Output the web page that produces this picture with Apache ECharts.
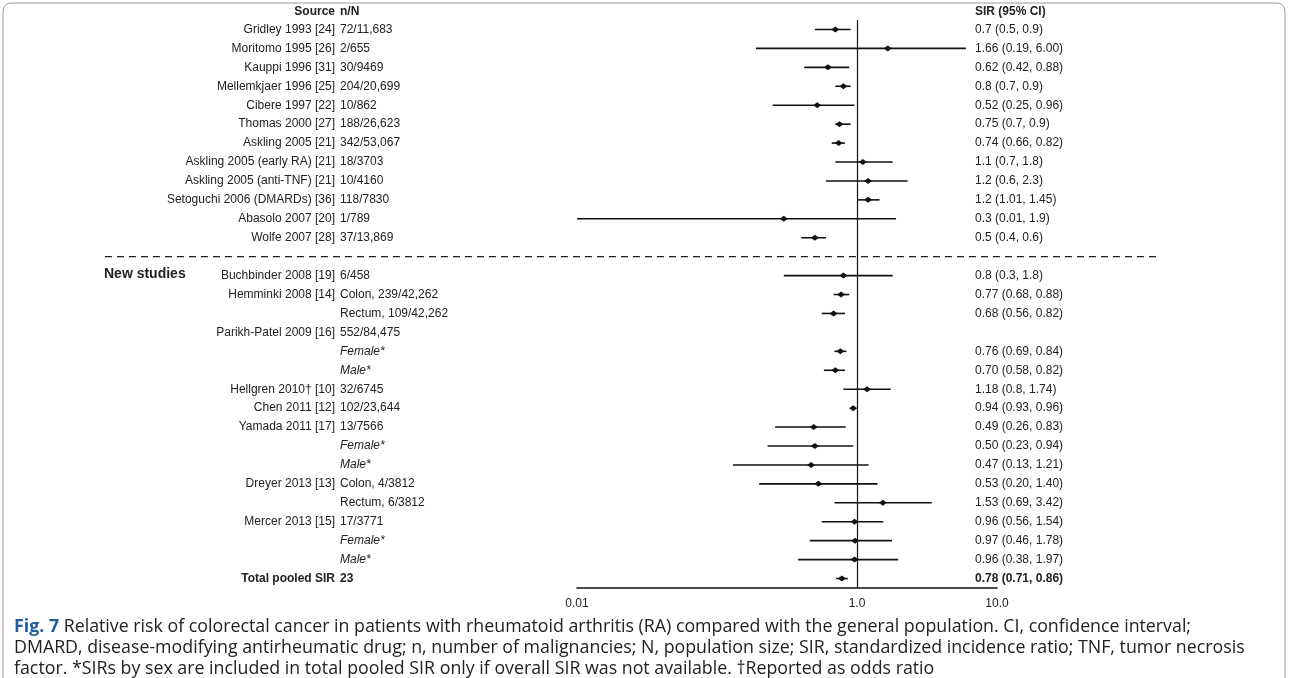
<!DOCTYPE html>
<html>
<head>
<meta charset="utf-8">
<script src="https://cdn.jsdelivr.net/npm/echarts@6/dist/echarts.min.js"></script>
<style>html,body{margin:0;padding:0;background:#fff}#main{width:1289px;height:678px}</style>
</head>
<body>
<div id="main"></div>
<script>
// one entry per row slot; slot 12 is the dashed separator
var sources = ['Gridley 1993 [24]','Moritomo 1995 [26]','Kauppi 1996 [31]','Mellemkjaer 1996 [25]','Cibere 1997 [22]','Thomas 2000 [27]','Askling 2005 [21]','Askling 2005 (early RA) [21]','Askling 2005 (anti-TNF) [21]','Setoguchi 2006 (DMARDs) [36]','Abasolo 2007 [20]','Wolfe 2007 [28]','',
  'Buchbinder 2008 [19]','Hemminki 2008 [14]','','Parikh-Patel 2009 [16]','','','Hellgren 2010\u2020 [10]','Chen 2011 [12]','Yamada 2011 [17]','','','Dreyer 2013 [13]','','Mercer 2013 [15]','','','Total pooled SIR'];
var counts = ['72/11,683','2/655','30/9469','204/20,699','10/862','188/26,623','342/53,067','18/3703','10/4160','118/7830','1/789','37/13,869','',
  '6/458','Colon, 239/42,262','Rectum, 109/42,262','552/84,475','Female*','Male*','32/6745','102/23,644','13/7566','Female*','Male*','Colon, 4/3812','Rectum, 6/3812','17/3771','Female*','Male*','23'];
var sirText = ['0.7 (0.5, 0.9)','1.66 (0.19, 6.00)','0.62 (0.42, 0.88)','0.8 (0.7, 0.9)','0.52 (0.25, 0.96)','0.75 (0.7, 0.9)','0.74 (0.66, 0.82)','1.1 (0.7, 1.8)','1.2 (0.6, 2.3)','1.2 (1.01, 1.45)','0.3 (0.01, 1.9)','0.5 (0.4, 0.6)','',
  '0.8 (0.3, 1.8)','0.77 (0.68, 0.88)','0.68 (0.56, 0.82)','','0.76 (0.69, 0.84)','0.70 (0.58, 0.82)','1.18 (0.8, 1.74)','0.94 (0.93, 0.96)','0.49 (0.26, 0.83)','0.50 (0.23, 0.94)','0.47 (0.13, 1.21)','0.53 (0.20, 1.40)','1.53 (0.69, 3.42)','0.96 (0.56, 1.54)','0.97 (0.46, 1.78)','0.96 (0.38, 1.97)','0.78 (0.71, 0.86)'];
var est  = [0.7,1.66,0.62,0.8,0.52,0.75,0.74,1.1,1.2,1.2,0.3,0.5,null,0.8,0.77,0.68,null,0.76,0.70,1.18,0.94,0.49,0.50,0.47,0.53,1.53,0.96,0.97,0.96,0.78];
var low  = [0.5,0.19,0.42,0.7,0.25,0.7,0.66,0.7,0.6,1.01,0.01,0.4,null,0.3,0.68,0.56,null,0.69,0.58,0.8,0.93,0.26,0.23,0.13,0.20,0.69,0.56,0.46,0.38,0.71];
var high = [0.9,6.00,0.88,0.9,0.96,0.9,0.82,1.8,2.3,1.45,1.9,0.6,null,1.8,0.88,0.82,null,0.84,0.82,1.74,0.96,0.83,0.94,1.21,1.40,3.42,1.54,1.78,1.97,0.86];
var italicRows = [17,18,22,23,27,28];
var sepRow = 12, totalRow = 29, newRow = 13;
var xTicks = {0.01:'0.01', 1:'1.0', 10:'10.0'};

var font = '"Liberation Sans", Arial, sans-serif';
var data = sources.map(function (s, i) { return [i, est[i], low[i], high[i]]; });

function renderItem(params, api) {
  var i = api.value(0);
  var y = api.coord([1, i])[1];
  var kids = [];
  var bold = (i === totalRow);
  var ital = italicRows.indexOf(i) >= 0;
  if (i === sepRow) {
    kids.push({type: 'line', shape: {x1: 105, y1: y, x2: 1160, y2: y},
      style: {stroke: '#222', lineWidth: 1.3, lineDash: [7, 5]}});
    return {type: 'group', children: kids};
  }
  var tf = {fill: '#222', fontFamily: font, fontSize: 12, verticalAlign: 'middle',
    fontWeight: bold ? 'bold' : 'normal'};
  kids.push({type: 'text', style: Object.assign({}, tf, {x: 335, y: y, text: sources[i], align: 'right'})});
  kids.push({type: 'text', style: Object.assign({}, tf, {x: 340, y: y, text: counts[i], align: 'left',
    fontStyle: ital ? 'italic' : 'normal'})});
  kids.push({type: 'text', style: Object.assign({}, tf, {x: 975, y: y, text: sirText[i], align: 'left'})});
  if (i === newRow) {
    kids.push({type: 'text', style: Object.assign({}, tf, {x: 104, y: y - 1, text: 'New studies', align: 'left',
      fontWeight: 'bold', fontSize: 14})});
  }
  if (est[i] != null) {
    var a = api.coord([api.value(2), i]), b = api.coord([api.value(3), i]), c = api.coord([api.value(1), i]);
    kids.push({type: 'line', shape: {x1: a[0], y1: y, x2: b[0], y2: y}, style: {stroke: '#111', lineWidth: 1.6}});
    kids.push({type: 'polygon', shape: {points: [[c[0] - 4, y], [c[0], y - 3], [c[0] + 4, y], [c[0], y + 3]]},
      style: {fill: '#111'}});
  }
  return {type: 'group', children: kids};
}

var chart = echarts.init(document.getElementById('main'));
var hdr = {fill: '#222', fontFamily: font, fontSize: 12, fontWeight: 'bold', verticalAlign: 'middle'};
chart.setOption({
  animation: false,
  grid: {left: 577, right: 292, top: 20, bottom: 90},
  xAxis: {
    type: 'log', logBase: 10, min: 0.01, max: 10, position: 'bottom',
    axisLine: {show: true, onZero: false, lineStyle: {color: '#111', width: 1.6}},
    axisTick: {show: false}, splitLine: {show: false}, minorTick: {show: false},
    axisLabel: {color: '#222', fontFamily: font, fontSize: 12, margin: 10,
      formatter: function (v) { return xTicks[Math.round(v * 100) / 100] || ''; }}
  },
  yAxis: {type: 'value', inverse: true, min: -0.5, max: 29.5, show: false},
  series: [{
    type: 'custom', clip: false, renderItem: renderItem, data: data,
    encode: {x: [1, 2, 3], y: 0},
    markLine: {silent: true, symbol: 'none', label: {show: false},
      lineStyle: {color: '#111', width: 1.2, type: 'solid'}, data: [{xAxis: 1}]}
  }],
  graphic: [
    {type: 'rect', shape: {x: 3, y: 3, width: 1282, height: 700, r: 8}, style: {fill: 'none', stroke: '#999', lineWidth: 1}},
    {type: 'text', style: Object.assign({}, hdr, {x: 335, y: 12, text: 'Source', align: 'right'})},
    {type: 'text', style: Object.assign({}, hdr, {x: 340, y: 12, text: 'n/N', align: 'left'})},
    {type: 'text', style: Object.assign({}, hdr, {x: 975, y: 12, text: 'SIR (95% CI)', align: 'left'})},
    {type: 'text', left: 14, top: 616, style: {
      fontFamily: '"Open Sans", sans-serif', fontSize: 17.8, lineHeight: 21, fill: '#222',
      text: '{b|Fig. 7} Relative risk of colorectal cancer in patients with rheumatoid arthritis (RA) compared with the general population. CI, confidence interval;\n' +
        'DMARD, disease-modifying antirheumatic drug; n, number of malignancies; N, population size; SIR, standardized incidence ratio; TNF, tumor necrosis\n' +
        'factor. *SIRs by sex are included in total pooled SIR only if overall SIR was not available. \u2020Reported as odds ratio',
      rich: {b: {fontFamily: '"Open Sans", sans-serif', fontSize: 17.8, fontWeight: 'bold', fill: '#1f5fa0'}}
    }}
  ]
});
</script>
</body>
</html>
